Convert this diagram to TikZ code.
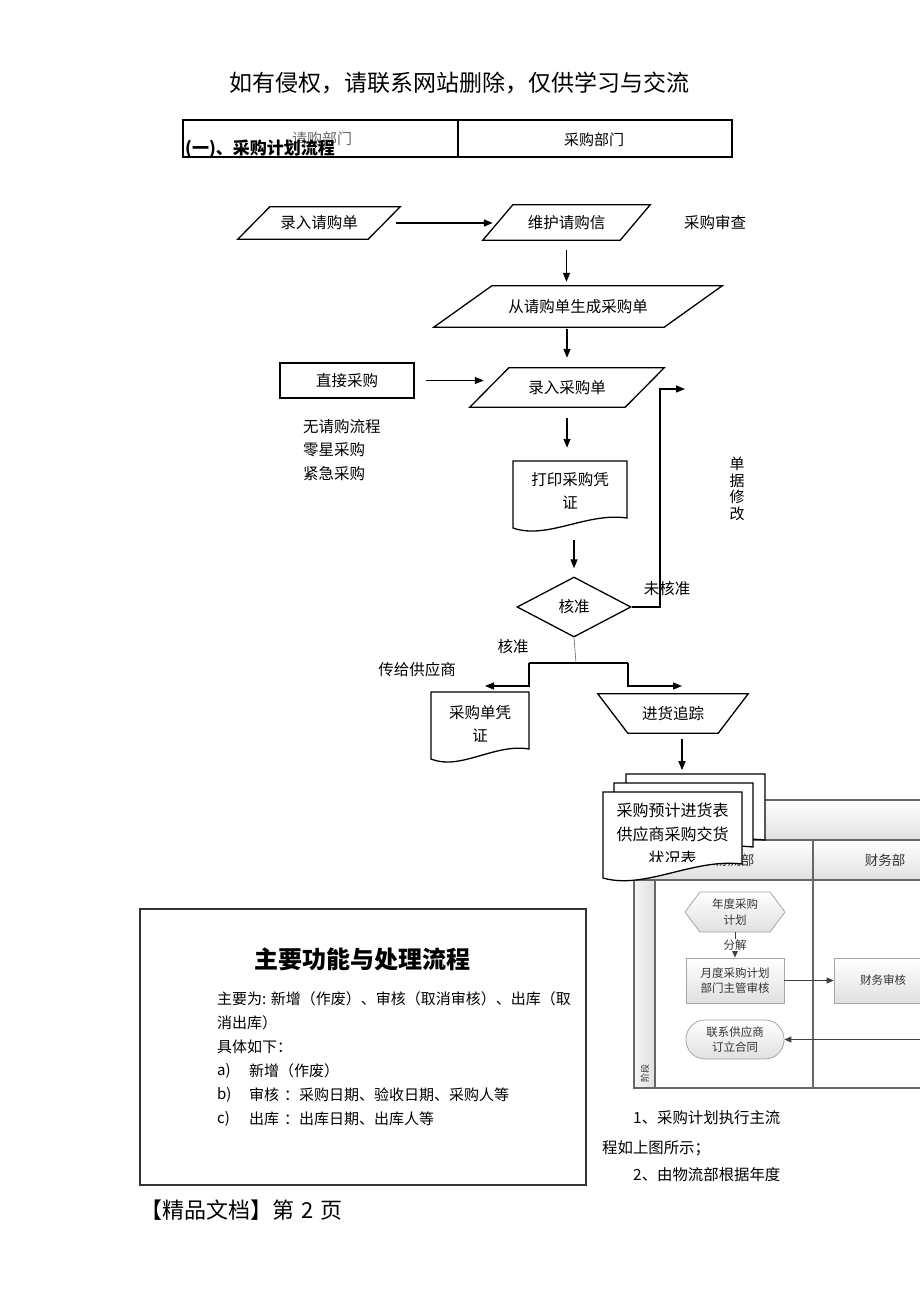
\documentclass[tikz,border=0pt]{standalone}
\usepackage{fontspec}
\setmainfont{Noto Sans CJK SC}
\usetikzlibrary{arrows.meta,shapes.geometric,calc}
\newcommand\fsz[2]{\fontsize{#1}{#2}\selectfont}
\begin{document}
\begin{tikzpicture}[x=1pt,y=-1pt,
  ln/.style={line width=1.3pt},
  arr/.style={line width=1.3pt,-{Triangle[length=9pt,width=7pt]}},
  fl/.style={inner sep=0pt, font=\fsz{15.5}{23}, align=center},
  el/.style={draw=black!60, line width=1.1pt},
  ebox/.style={draw=black!35, line width=0.8pt, top color=white, bottom color=black!12},
  etxt/.style={font=\fsz{11.5}{15.5}, text=black!80, align=center, inner sep=0pt},
  earr/.style={draw=black!75, line width=0.9pt, -{Triangle[length=7pt,width=6pt]}},
  doc/.style={draw=black, line width=1.3pt, fill=white},
  bt/.style={anchor=west, inner sep=0pt, font=\fsz{15}{20}}
]
\useasboundingbox (0,0) rectangle (920,1302);
\fill[white] (0,0) rectangle (920,1302);

% header
\node[font=\fsz{23}{28}, inner sep=0pt] (hdr) at (459.5,83) {如有侵权，请联系网站删除，仅供学习与交流};

% table
\node[draw, ln, minimum width=275pt, minimum height=37pt, inner sep=0pt] (c1) at (320.5,138.5) {};
\node[draw, ln, minimum width=274pt, minimum height=37pt, inner sep=0pt] (c2) at (595,138.5) {};
\node[font=\fsz{15}{17}, text=black!60, inner sep=0pt] (c1t) at (322,139) {请购部门};
\node[font=\fsz{15}{17}, inner sep=0pt] (c2t) at (594,140) {采购部门};
\node[font=\fsz{17}{20}\bfseries, anchor=west, inner sep=0pt] (ttl) at (185,149) {(一)、采购计划流程};

% p1
\node[fl, minimum width=162pt, minimum height=32pt] (p1) at (319,223) {录入请购单};
\draw[ln] ([xshift=32pt]p1.north west) -- (p1.north east) -- ([xshift=-32pt]p1.south east) -- (p1.south west) -- cycle;
% p2
\node[fl, minimum width=167pt, minimum height=35pt] (p2) at (566.5,222.5) {维护请购信};
\draw[ln] ([xshift=30pt]p2.north west) -- (p2.north east) -- ([xshift=-30pt]p2.south east) -- (p2.south west) -- cycle;
\node[fl] (aud) at (715,223) {采购审查};
\draw[arr] ([xshift=-4pt]p1.east) -- ([xshift=10pt]p1.east -| p2.west);
% p3
\node[fl, minimum width=288pt, minimum height=41pt] (p3) at (578,306.5) {从请购单生成采购单};
\draw[ln] ([xshift=58pt]p3.north west) -- (p3.north east) -- ([xshift=-58pt]p3.south east) -- (p3.south west) -- cycle;
\draw[arr] ([yshift=-10pt]p2.south) -- ([yshift=4pt]p2.south |- p3.north);
% r1
\node[draw, ln, fl, minimum width=134pt, minimum height=35pt] (r1) at (347,380.5) {直接采购};
% p4
\node[fl, minimum width=194pt, minimum height=39pt] (p4) at (567,387.5) {录入采购单};
\draw[ln] ([xshift=39pt]p4.north west) -- (p4.north east) -- ([xshift=-39pt]p4.south east) -- (p4.south west) -- cycle;
\draw[arr] ([yshift=-2pt]p4.north |- p3.south) -- ([yshift=10pt]p4.north);
\draw[arr] ([xshift=11pt]r1.east) -- ([xshift=14pt]r1.east -| p4.west);
\node[fl, anchor=west, align=left, font=\fsz{15.5}{23.5}] (lst) at (303,450) {无请购流程\\零星采购\\紧急采购};

% doc1
\draw[ln] (513,461) -- (627,461) -- (627,518) .. controls (587,512) and (547,540) .. (513,528) -- cycle;
\node[fl, minimum width=114pt, minimum height=58pt] (doc1) at (570,491) {打印采购凭\\证};
\draw[arr] ([yshift=-11pt]p4.south) -- ([yshift=14pt]p4.south |- doc1.north);

% diamond
\node[draw, ln, diamond, minimum width=114pt, minimum height=60pt, inner sep=0pt, font=\fsz{15.5}{18}] (d) at (574,607) {核准};
\draw[arr] ([yshift=-20pt]d.north |- doc1.south) -- ([yshift=8pt]d.north);

% feedback
\node[fl, font=\fsz{15}{16.5}] (mod) at (737,489) {单\\据\\修\\改};
\node[fl] (nok) at (667,589) {未核准};
\coordinate (fbk) at (660,389);
\coordinate (fbe) at (685,389);
\draw[arr] (d.east) -| (fbk) -- (fbe);

% branch
\coordinate (bm) at (576,663);
\coordinate (bl) at (529,663);
\coordinate (brt) at (628,663);
\coordinate (tl) at (485,686);
\coordinate (tr) at (682,686);
\draw[line width=0.6pt, black!60] (d.south) -- (bm);
\draw[ln] (bl) -- (brt);
\draw[arr] (bl) |- (tl);
\draw[arr] (brt) |- (tr);
\node[fl] (ok) at (513,647) {核准};
\node[fl] (sup2) at (417,670) {传给供应商};

% doc2
\draw[ln] (431,692) -- (529,692) -- (529,749) .. controls (495,743) and (460,771) .. (431,759) -- cycle;
\node[fl, minimum width=98pt, minimum height=60pt] (doc2) at (480,723.5) {采购单凭\\证};

% trapezoid
\node[fl, minimum width=150pt, minimum height=39pt] (trap) at (673,713.5) {进货追踪};
\draw[ln] (trap.north west) -- (trap.north east) -- ([xshift=-30pt]trap.south east) -- ([xshift=30pt]trap.south west) -- cycle;
\draw[arr] ([xshift=9pt,yshift=-6pt]trap.south) -- ([xshift=9pt,yshift=-37pt]trap.south);

% embedded swimlane picture
\begin{scope}
\clip (600,770) rectangle (920,1100);
\shade[top color=white, bottom color=black!12] (634,800) rectangle (930,840);
\shade[top color=white, bottom color=black!12] (634,840) rectangle (930,880);
\shade[left color=black!4, right color=black!12] (634,880) rectangle (655,1088);
\draw[el] (930,800) -- (634,800) -- (634,1088) -- (930,1088);
\draw[el] (634,840) -- (930,840);
\draw[el] (634,880) -- (930,880);
\draw[el] (655,880) -- (655,1088);
\draw[el] (813,840) -- (813,1088);
\node[etxt, font=\fsz{13.5}{16}] (lane1) at (734,860) {物流部};
\node[etxt, font=\fsz{13.5}{16}] (lane2) at (885,860) {财务部};
\node[etxt, font=\fsz{9}{11}, rotate=90] (stage) at (645,1073) {阶段};
\path[ebox] (685,912) -- (700,892) -- (770,892) -- (785,912) -- (770,932) -- (700,932) -- cycle;
\node[etxt, minimum width=100pt, minimum height=40pt] (hex) at (735,912) {年度采购\\计划};
\node[etxt, ebox, minimum width=98pt, minimum height=45pt] (mon) at (735,980.5) {月度采购计划\\部门主管审核};
\node[etxt, ebox, minimum width=98pt, minimum height=45pt] (fin) at (883,980.5) {财务审核};
\node[etxt, ebox, rounded corners=19pt, minimum width=98pt, minimum height=39pt] (sup) at (735,1039.5) {联系供应商\\订立合同};
\draw[earr] (hex.south) -- node[fill=white, etxt, inner sep=1pt] {分解} (mon.north);
\draw[earr] (mon.east) -- (fin.west);
\coordinate (ein) at (925,1039.5);
\draw[earr] (ein) -- (sup.east);
\end{scope}

% document stack
\path[doc] (626,774) -- (765,774) -- (765,840) .. controls (716,834) and (668,866) .. (626,854) -- cycle;
\path[doc] (614,783) -- (753,783) -- (753,847) .. controls (704,841) and (656,873) .. (614,861) -- cycle;
\path[doc] (603,792) -- (742,792) -- (742,864) .. controls (693,858) and (645,890) .. (603,878) -- cycle;
\begin{scope}
\clip (600,780) rectangle (745,861);
\node[fl, font=\fsz{16}{24}] (stk) at (672.5,834) {采购预计进货表\\供应商采购交货\\状况表};
\end{scope}

% bottom-left box
\node[draw=black!80, line width=1.2pt, minimum width=446pt, minimum height=276pt, inner sep=0pt] (box) at (363,1047) {};
\node[font=\fsz{24}{28}\bfseries, inner sep=0pt] (boxt) at (362.5,959) {主要功能与处理流程};
\node[bt] (l1) at (217,999) {主要为: 新增（作废）、审核（取消审核）、出库（取};
\node[bt] (l2) at (217,1023) {消出库）};
\node[bt] (l3) at (217,1047) {具体如下：};
\node[bt] (la) at (217,1071) {a)};
\node[bt] (lat) at (249,1071) {新增（作废）};
\node[bt] (lb) at (217,1095) {b)};
\node[bt] (lbt) at (249,1095) {审核\hspace{5pt}：采购日期、验收日期、采购人等};
\node[bt] (lc) at (217,1119) {c)};
\node[bt] (lct) at (249,1119) {出库\hspace{5pt}：出库日期、出库人等};

% bottom-right text
\node[bt, font=\fsz{15.4}{20}] (br1) at (633,1118) {1、采购计划执行主流};
\node[bt, font=\fsz{15.4}{20}] (br2) at (602,1148) {程如上图所示；};
\node[bt, font=\fsz{15.4}{20}] (br3) at (633,1175) {2、由物流部根据年度};

% footer
\node[anchor=west, font=\fsz{22}{26}, inner sep=0pt] (ftr) at (140,1210) {【精品文档】第\hspace{7pt}2\hspace{7pt}页};
\end{tikzpicture}
\end{document}
